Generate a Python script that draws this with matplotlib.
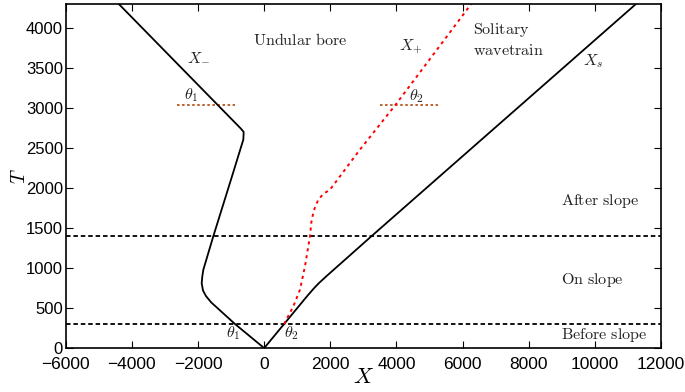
import numpy as np
import matplotlib
matplotlib.use("Agg")
import matplotlib.pyplot as plt

plt.rcParams['mathtext.fontset'] = 'cm'
plt.rcParams['font.family'] = 'Liberation Sans'

# characteristic curves (X, T)
xm_X = [0, -880, -1600, -1760, -1850, -1890, -1870, -1840, -1540, -1000, -631, -620, -700, -1435, -4408]
xm_T = [0, 300, 570, 650, 720, 810, 900, 979, 1395, 2110, 2604, 2700, 2740, 3050, 4304]

xp_X = [600, 880, 1082, 1233, 1384, 1435, 1520, 1635, 1800, 1988, 2300, 2592, 2894, 3952, 5100, 6269]
xp_T = [300, 520, 729, 1020, 1395, 1604, 1740, 1854, 1930, 1979, 2150, 2313, 2479, 3029, 3660, 4304]

xs_X = [0, 1300, 1500, 1650, 1900, 3250, 11300]
xs_T = [0, 650, 745, 810, 905, 1400, 4320]

slope_T = [300, 1400]        # start / end of the slope
theta_T = 3040
theta1_X = [-2647, -882]
theta2_X = [3498, 5260]

x_ticks = list(range(-6000, 12001, 2000))
y_ticks = list(range(0, 4001, 500))

fig = plt.figure(figsize=(6.85, 3.92), dpi=100)
ax = fig.add_axes([0.096, 0.112, 0.869, 0.878])

for t in slope_T:
    ax.axhline(t, color='black', lw=1.3, dashes=(2.5, 1.6))
ax.plot(theta1_X, [theta_T] * 2, color='#b8561d', lw=1.3, dashes=(1.4, 1.4))
ax.plot(theta2_X, [theta_T] * 2, color='#b8561d', lw=1.3, dashes=(1.4, 1.4))

ax.plot(xm_X, xm_T, color='black', lw=1.3)
ax.plot(xs_X, xs_T, color='black', lw=1.3)
ax.plot(xp_X, xp_T, color='red', lw=1.4, dashes=(1.6, 2.0))

tc = '#222222'
fs = 11.6
ax.text(1082, 3854, r'$\mathrm{Undular\ bore}$', fontsize=fs, color=tc, ha='center', va='center')
ax.text(6300, 3854, r'$\mathrm{Solitary}$' + '\n' + r'$\mathrm{wavetrain}$', fontsize=fs, color=tc,
        ha='left', va='center', linespacing=1.3)
ax.text(-1994, 3641, r'$X_{-}$', fontsize=fs, color=tc, ha='center', va='center')
ax.text(4435, 3766, r'$X_{+}$', fontsize=fs, color=tc, ha='center', va='center')
ax.text(9934, 3583, r'$X_{s}$', fontsize=fs, color=tc, ha='center', va='center')
ax.text(-2211, 3166, r'$\theta_1$', fontsize=fs, color=tc, ha='center', va='center')
ax.text(4607, 3145, r'$\theta_2$', fontsize=fs, color=tc, ha='center', va='center')
ax.text(-933, 187, r'$\theta_1$', fontsize=fs, color=tc, ha='center', va='center')
ax.text(830, 187, r'$\theta_2$', fontsize=fs, color=tc, ha='center', va='center')
ax.text(8990, 1833, r'$\mathrm{After\ slope}$', fontsize=fs, color=tc, ha='left', va='center')
ax.text(8990, 854, r'$\mathrm{On\ slope}$', fontsize=fs, color=tc, ha='left', va='center')
ax.text(8990, 166, r'$\mathrm{Before\ slope}$', fontsize=fs, color=tc, ha='left', va='center')

ax.set_xlim(-6000, 12000)
ax.set_ylim(0, 4300)
ax.set_xticks(x_ticks)
ax.set_yticks(y_ticks)
ax.tick_params(direction='in', length=5, width=0.8, top=True, right=True, labelsize=12, pad=2)
ax.tick_params(axis='x', pad=6.5, labelsize=12.5)
ax.set_xticklabels([str(v).replace('-', '\u2212') for v in x_ticks])
for s in ax.spines.values():
    s.set_linewidth(1.2)

ax.set_xlabel(r'$X$', fontsize=16, labelpad=-4)
ax.set_ylabel(r'$T$', fontsize=14, labelpad=-2)

fig.savefig('out.png', dpi=100)
